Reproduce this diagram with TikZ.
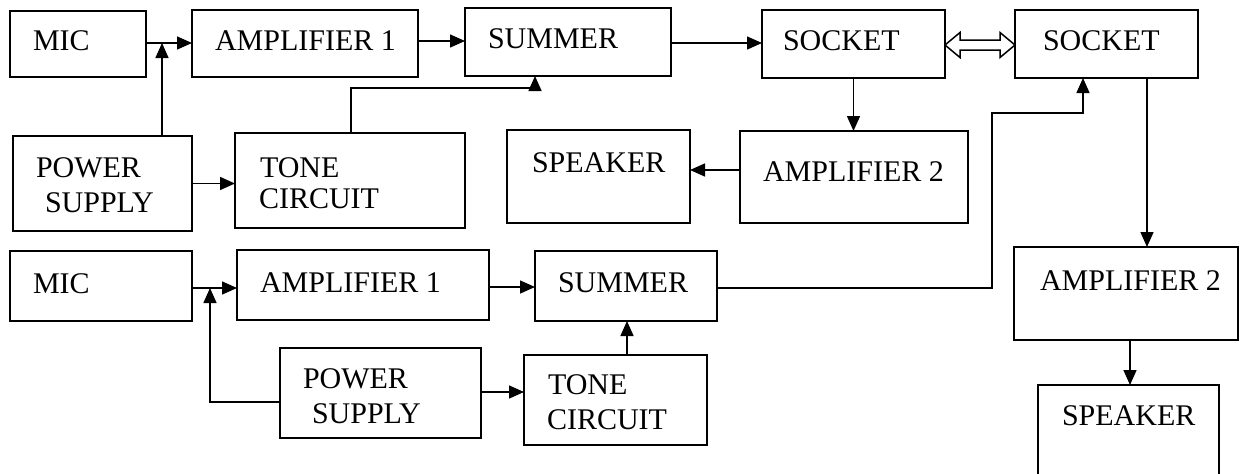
\documentclass[tikz,border=0pt]{standalone}
\usepackage{fontspec}
\setmainfont{Liberation Serif}
\usetikzlibrary{arrows.meta,calc}
\begin{document}
\begin{tikzpicture}[x=1pt,y=-1pt,
  box/.style={draw, line width=1.7pt, rectangle, inner sep=0pt, outer sep=0pt},
  lbl/.style={inner sep=0pt, outer sep=0pt, anchor=base west, font=\fontsize{30}{36}\selectfont},
  ln/.style={line width=1.5pt},
  arr/.style={line width=1.5pt, -{Triangle[length=15pt,width=13pt]}},
  dbl/.style={line width=1.5pt, line join=miter}]
\path[use as bounding box, clip] (0,0) rectangle (1240,474);
\fill[white] (0,0) rectangle (1240,474);
% boxes
\node[box, minimum width=136pt, minimum height=66pt] (mic1) at (78,44) {};
\node[box, minimum width=226pt, minimum height=67pt] (amp1a) at (305,43.5) {};
\node[box, minimum width=206pt, minimum height=68pt] (sum1) at (568,42) {};
\node[box, minimum width=183pt, minimum height=68pt] (sock1) at (853.5,44) {};
\node[box, minimum width=183pt, minimum height=68pt] (sock2) at (1106.5,44) {};
\node[box, minimum width=179pt, minimum height=95pt] (ps1) at (102.5,183.5) {};
\node[box, minimum width=230pt, minimum height=95pt] (tone1) at (350,180.5) {};
\node[box, minimum width=183pt, minimum height=93pt] (spk1) at (598.5,176.5) {};
\node[box, minimum width=228pt, minimum height=92pt] (amp2a) at (854,177) {};
\node[box, minimum width=182pt, minimum height=70pt] (mic2) at (101,286) {};
\node[box, minimum width=252pt, minimum height=70pt] (amp1b) at (363,285) {};
\node[box, minimum width=182pt, minimum height=70pt] (sum2) at (626,286) {};
\node[box, minimum width=201pt, minimum height=90pt] (ps2) at (380.5,393) {};
\node[box, minimum width=183pt, minimum height=90pt] (tone2) at (615.5,400) {};
\node[box, minimum width=224pt, minimum height=93pt] (amp2b) at (1126,293.5) {};
\node[box, minimum width=181pt, minimum height=115pt] (spk2) at (1128.5,442.5) {};
% labels
\node[lbl] (mic1t) at (33,50) {MIC};
\node[lbl] (amp1at) at (215,50) {AMPLIFIER 1};
\node[lbl] (sum1t) at (488,48) {SUMMER};
\node[lbl] (sock1t) at (783,50) {SOCKET};
\node[lbl] (sock2t) at (1043,50) {SOCKET};
\node[lbl] (ps1ta) at (36,177) {POWER};
\node[lbl] (ps1tb) at (45,212) {SUPPLY};
\node[lbl] (tone1ta) at (260,177) {TONE};
\node[lbl] (tone1tb) at (259,208) {CIRCUIT};
\node[lbl] (spk1t) at (532,172) {SPEAKER};
\node[lbl] (amp2at) at (763,181) {AMPLIFIER 2};
\node[lbl] (mic2t) at (33,293) {MIC};
\node[lbl] (amp1bt) at (260,292) {AMPLIFIER 1};
\node[lbl] (sum2t) at (558,292) {SUMMER};
\node[lbl] (ps2ta) at (303,388) {POWER};
\node[lbl] (ps2tb) at (312,423) {SUPPLY};
\node[lbl] (tone2ta) at (548,394) {TONE};
\node[lbl] (tone2tb) at (547,429) {CIRCUIT};
\node[lbl] (amp2bt) at (1040,290) {AMPLIFIER 2};
\node[lbl] (spk2t) at (1062,425) {SPEAKER};
% helper coordinates
\coordinate (j1) at (162,43);
\coordinate (c41) at (0,41);
\coordinate (c45) at (0,45);
\coordinate (c170) at (0,170);
\coordinate (t1) at (351,88);
\coordinate (t2) at (535,88);
\coordinate (x1147) at (1147,0);
\coordinate (x1130) at (1130,0);
\coordinate (k1) at (992,288);
\coordinate (k2) at (992,113);
\coordinate (k3) at (1083,113);
\coordinate (j2) at (210,288);
\coordinate (j3) at (210,402);
\coordinate (c392) at (0,392);
\coordinate (c287) at (0,287);
\coordinate (x627) at (627,0);
\coordinate (da) at (sock1.east |- c45);
\coordinate (db) at (sock2.west |- c45);
% connectors, upper chain
\draw[ln] (mic1.east |- j1) -- (j1);
\draw[arr] (j1) -- (j1 -| amp1a.west);
\draw[arr] (j1 |- ps1.north) -- (j1);
\draw[arr] (ps1.east) -- (ps1.east -| tone1.west);
\draw[arr] (amp1a.east |- c41) -- (sum1.west |- c41);
\draw[arr] (t1 |- tone1.north) -- (t1) -- (t2) -- (t2 |- sum1.south);
\draw[arr] (sum1.east |- j1) -- (sock1.west |- j1);
\draw[dbl] (da) -- ($(da)+(15,-12.5)$) -- ($(da)+(15,-5)$) -- ($(db)+(-15,-5)$)
  -- ($(db)+(-15,-12.5)$) -- (db) -- ($(db)+(-15,12.5)$) -- ($(db)+(-15,5)$)
  -- ($(da)+(15,5)$) -- ($(da)+(15,12.5)$) -- cycle;
\draw[arr] (sock1.south) -- (sock1.south |- amp2a.north);
\draw[arr] (amp2a.west |- c170) -- (spk1.east |- c170);
\draw[arr] (x1147 |- sock2.south) -- (x1147 |- amp2b.north);
\draw[arr] (x1130 |- amp2b.south) -- (x1130 |- spk2.north);
% lower chain
\draw[ln] (mic2.east |- j2) -- (j2);
\draw[arr] (j2) -- (j2 -| amp1b.west);
\draw[arr] (ps2.west |- j3) -- (j3) -- (j2);
\draw[arr] (ps2.east |- c392) -- (tone2.west |- c392);
\draw[arr] (x627 |- tone2.north) -- (x627 |- sum2.south);
\draw[arr] (amp1b.east |- c287) -- (sum2.west |- c287);
\draw[arr] (sum2.east |- k1) -- (k1) -- (k2) -- (k3) -- (k3 |- sock2.south);
\end{tikzpicture}
\end{document}
